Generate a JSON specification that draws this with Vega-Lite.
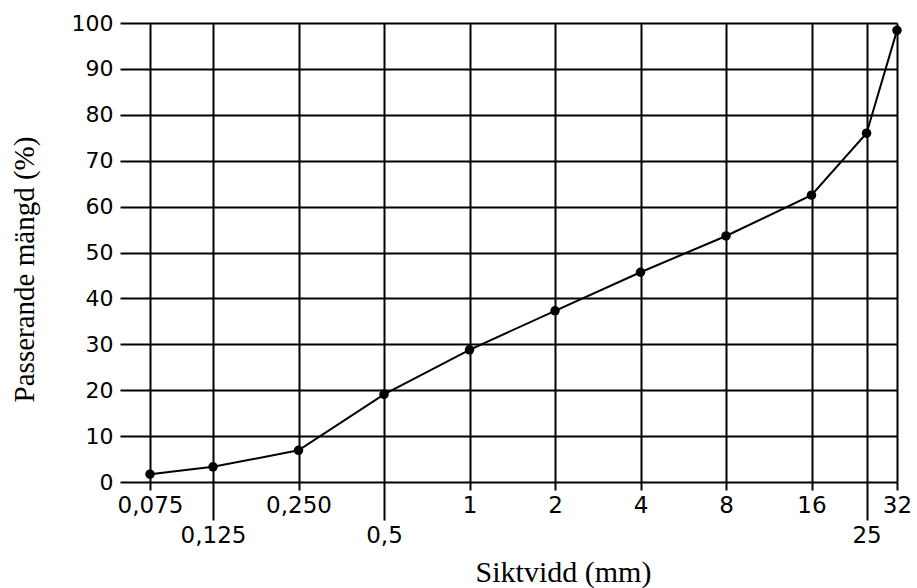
{
  "$schema": "https://vega.github.io/schema/vega-lite/v6.json",
  "autosize": {"type": "none"},
  "padding": {"left": 120, "top": 23, "right": 20, "bottom": 106},
  "width": 777,
  "height": 459,
  "background": "white",
  "config": {
    "view": {"stroke": null},
    "axis": {
      "labelFont": "DejaVu Sans",
      "labelFontSize": 22,
      "labelColor": "black",
      "titleFont": "Liberation Serif",
      "titleFontWeight": "normal",
      "titleColor": "black",
      "titleFontSize": 29,
      "gridColor": "black",
      "gridOpacity": 1,
      "gridWidth": 2,
      "tickColor": "black",
      "tickWidth": 2,
      "domain": false
    }
  },
  "data": {
    "values": [
      {"size": 0.075, "pass": 1.7},
      {"size": 0.125, "pass": 3.3},
      {"size": 0.25, "pass": 6.9},
      {"size": 0.5, "pass": 19.1},
      {"size": 1, "pass": 28.8},
      {"size": 2, "pass": 37.3},
      {"size": 4, "pass": 45.7},
      {"size": 8, "pass": 53.6},
      {"size": 16, "pass": 62.5},
      {"size": 25, "pass": 76.0},
      {"size": 32, "pass": 98.4}
    ]
  },
  "encoding": {
    "x": {
      "field": "size",
      "type": "quantitative",
      "scale": {"type": "log", "domain": [0.0588, 32], "nice": false, "zero": false},
      "axis": {
        "values": [0.075, 0.125, 0.25, 0.5, 1, 2, 4, 8, 16, 25, 32],
        "grid": true,
        "tickSize": {"condition": {"test": "indexof([0.125, 0.5, 25], datum.value) >= 0", "value": 38}, "value": 8},
        "labelPadding": 4,
        "labelFontSize": 23,
        "labelAlign": "center",
        "labelBaseline": "top",
        "labelExpr": "datum.value == 0.25 ? '0,250' : replace(format(datum.value, '~g'), '.', ',')",
        "labelOverlap": false,
        "title": "Siktvidd (mm)",
        "titleFontSize": 30,
        "titleX": 443,
        "titleY": 99,
        "titleAlign": "center",
        "titleBaseline": "alphabetic",
        "titleAnchor": null
      }
    },
    "y": {
      "field": "pass",
      "type": "quantitative",
      "scale": {"domain": [0, 100], "nice": false},
      "axis": {
        "values": [0, 10, 20, 30, 40, 50, 60, 70, 80, 90, 100],
        "grid": true,
        "ticks": false,
        "labelPadding": 7,
        "title": "Passerande mängd (%)",
        "titleAngle": -90,
        "titleX": -87,
        "titleY": 246,
        "titleAlign": "center",
        "titleBaseline": "alphabetic",
        "titleAnchor": null
      }
    }
  },
  "layer": [
    {"mark": {"type": "line", "color": "black", "strokeWidth": 2}},
    {"mark": {"type": "point", "filled": true, "color": "black", "opacity": 1, "size": 90}}
  ]
}
